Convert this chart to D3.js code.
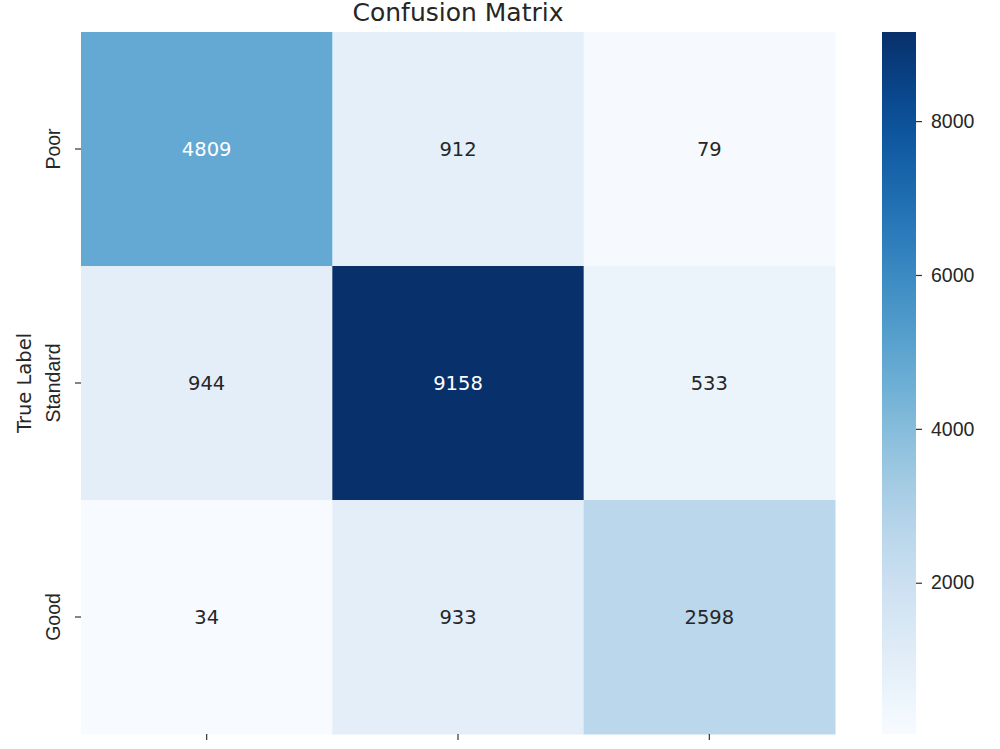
<!DOCTYPE html>
<html>
<head>
<meta charset="utf-8">
<script src="https://cdn.jsdelivr.net/npm/d3@7"></script>
<style>
  body { margin: 0; background: #fff; }
  svg { font-family: "DejaVu Sans", sans-serif; }
</style>
</head>
<body>
<svg width="1000" height="749"></svg>
<script>
var labels = ["Poor", "Standard", "Good"];

// rows = true label, cols = predicted label
var matrix = [
    [4809, 912, 79],
    [944, 9158, 533],
    [34, 933, 2598]
];

var cbTicks = [2000, 4000, 6000, 8000];

var svg = d3.select("svg");
// note: can't call this "top", it clashes with window.top
var plotL = 81, plotT = 32, plotR = 835, plotB = 734;
var fs = "19.5px";

var cells = [];
matrix.forEach(function(row, i) {
    row.forEach(function(v, j) {
        cells.push({row: labels[i], col: labels[j], value: v});
    });
});

var allVals = cells.map(function(d) { return d.value; });
var vmin = d3.min(allVals), vmax = d3.max(allVals);

var x = d3.scaleBand().domain(labels).range([plotL, plotR]);
var y = d3.scaleBand().domain(labels).range([plotT, plotB]);
var color = d3.scaleSequential(d3.interpolateBlues).domain([vmin, vmax]);

// same rule seaborn uses to pick text colour (relative luminance)
function lumin(c) {
    c = d3.rgb(c);
    var ch = [c.r, c.g, c.b].map(function(v) {
        v = v / 255;
        return v <= 0.03928 ? v / 12.92 : Math.pow((v + 0.055) / 1.055, 2.4);
    });
    return 0.2126 * ch[0] + 0.7152 * ch[1] + 0.0722 * ch[2];
}

// cells
svg.selectAll(".cell")
    .data(cells)
    .enter().append("rect")
    .attr("class", "cell")
    .attr("x", function(d) { return x(d.col); })
    .attr("y", function(d) { return y(d.row); })
    .attr("width", x.bandwidth() + 0.5)
    .attr("height", y.bandwidth() + 0.5)
    .attr("fill", function(d) { return color(d.value); });

//annotations, white on dark cells
svg.selectAll(".annot")
    .data(cells)
    .enter().append("text")
    .attr("class", "annot")
    .attr("x", function(d) { return x(d.col) + x.bandwidth() / 2; })
    .attr("y", function(d) { return y(d.row) + y.bandwidth() / 2; })
    .attr("text-anchor", "middle")
    .attr("dominant-baseline", "central")
    .style("font-size", fs)
    .attr("fill", function(d) {
        return lumin(color(d.value)) > 0.408 ? "#262626" : "#ffffff";
    })
    .text(function(d) { return d.value; });

// y axis
var yAxis = svg.append("g")
    .attr("transform", "translate(" + plotL + ",0)")
    .call(d3.axisLeft(y).tickSize(6).tickPadding(4));
yAxis.select(".domain").remove();
yAxis.selectAll("line").attr("stroke", "#333").attr("stroke-width", 1.2);
yAxis.selectAll("text")
    .style("font-size", fs)
    .attr("fill", "#262626")
    .attr("transform", "rotate(-90,-21,0)")
    .attr("x", -21)
    .attr("dy", 0)
    .attr("text-anchor", "middle");

// x axis (labels fall just below the visible area, like the original crop)
var xAxis = svg.append("g")
    .attr("transform", "translate(0," + plotB + ")")
    .call(d3.axisBottom(x).tickSize(6).tickPadding(10));
xAxis.select(".domain").remove();
xAxis.selectAll("line").attr("stroke", "#333").attr("stroke-width", 1.2);
xAxis.selectAll("text").style("font-size", fs).attr("fill", "#262626");

svg.append("text")
    .attr("transform", "translate(31," + ((plotT + plotB) / 2) + ") rotate(-90)")
    .attr("text-anchor", "middle")
    .style("font-size", fs)
    .attr("fill", "#262626")
    .text("True Label");

svg.append("text")
    .attr("x", (plotL + plotR) / 2)
    .attr("y", 21)
    .attr("text-anchor", "middle")
    .style("font-size", "25px")
    .attr("fill", "#262626")
    .text("Confusion Matrix");

// colorbar
var cbX = 882, cbW = 34;
var cbScale = d3.scaleLinear().domain([vmin, vmax]).range([plotB, plotT]);

var grad = svg.append("defs").append("linearGradient")
    .attr("id", "cbgrad")
    .attr("x1", 0).attr("y1", 1).attr("x2", 0).attr("y2", 0);
d3.range(0, 1.0001, 0.05).forEach(function(t) {
    grad.append("stop")
        .attr("offset", t)
        .attr("stop-color", color(vmin + t * (vmax - vmin)));
});

svg.append("rect")
    .attr("x", cbX)
    .attr("y", plotT)
    .attr("width", cbW)
    .attr("height", plotB - plotT)
    .attr("fill", "url(#cbgrad)");

var cbAxis = svg.append("g")
    .attr("transform", "translate(" + (cbX + cbW) + ",0)")
    .call(d3.axisRight(cbScale).tickValues(cbTicks).tickFormat(d3.format("d"))
        .tickSize(6).tickPadding(9));
cbAxis.select(".domain").remove();
cbAxis.selectAll("line").attr("stroke", "#333").attr("stroke-width", 1.2);
cbAxis.selectAll("text").style("font-size", fs).attr("fill", "#262626");
</script>
</body>
</html>
